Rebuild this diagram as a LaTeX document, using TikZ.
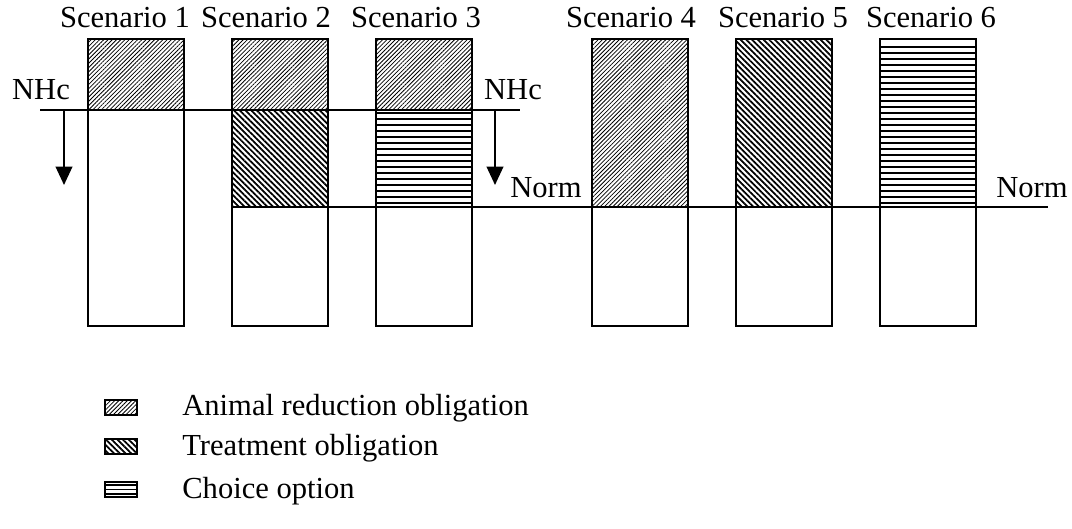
\documentclass[tikz,border=0pt]{standalone}
\usepackage{fontspec}
\setmainfont{Liberation Serif}
\usetikzlibrary{patterns.meta,arrows.meta}
\tikzset{
    every node/.style={inner sep=0pt, font=\fontsize{17.4}{20}\selectfont}
}
\tikzset{
    reductionfill/.style={pattern={Lines[angle=45,distance=1.7pt,line width=0.45pt]}},
    treatmentfill/.style={pattern={Lines[angle=-45,distance=2.3pt,line width=1pt]}}
}
\tikzset{
    bar/.style={line width=1.1pt}
}
% horizontal lines: left x, bottom y, width, number of gaps, gap
\newcommand{\choicelines}[5]{
	\foreach \k in {0,...,#4}
		\draw[line width=1pt] (#1,#2+\k*#5) -- ++(#3,0);
}

\begin{document}
\begin{tikzpicture}
	\useasboundingbox (0,0) rectangle (21.44,10.56);
	% patterned parts of the bars
	\fill[reductionfill] (1.76,8.36) rectangle (3.68,9.78);
	\fill[reductionfill] (4.64,8.36) rectangle (6.56,9.78);
	\fill[treatmentfill] (4.64,6.42) rectangle (6.56,8.36);
	\fill[reductionfill] (7.52,8.36) rectangle (9.44,9.78);
	\choicelines{7.52}{6.5}{1.92}{15}{0.12}
	\fill[reductionfill] (11.84,6.42) rectangle (13.76,9.78);
	\fill[treatmentfill] (14.72,6.42) rectangle (16.64,9.78);
	\choicelines{17.6}{6.5}{1.92}{26}{0.12}
	% bar outlines
	\foreach \x in {1.76,4.64,7.52,11.84,14.72,17.6}
		\draw[bar] (\x,4.04) rectangle ++(1.92,5.74);
	% NHc and Norm lines
	\coordinate (nhcl) at (0.8,8.36);
	\coordinate (nhcr) at (10.4,8.36);
	\coordinate (norml) at (4.64,6.42);
	\coordinate (normr) at (20.96,6.42);
	\draw[bar] (nhcl) -- (nhcr);
	\draw[bar] (norml) -- (normr);
	% arrows
	\coordinate (a1) at (1.28,8.36);
	\coordinate (b1) at (1.28,6.86);
	\coordinate (a2) at (9.9,8.36);
	\coordinate (b2) at (9.9,6.86);
	\draw[bar, -{Triangle[width=9.5pt,length=10.5pt]}] (a1) -- (b1);
	\draw[bar, -{Triangle[width=9.5pt,length=10.5pt]}] (a2) -- (b2);
	% labels
	\node[anchor=base] (nhc1) at (0.82,8.56) {NHc};
	\node[anchor=base] (nhc2) at (10.26,8.56) {NHc};
	\node[anchor=base] (norm1) at (10.92,6.6) {Norm};
	\node[anchor=base] (norm2) at (20.64,6.6) {Norm};
	\node[anchor=base] (s1) at (2.5,10) {Scenario 1};
	\node[anchor=base] (s2) at (5.32,10) {Scenario 2};
	\node[anchor=base] (s3) at (8.32,10) {Scenario 3};
	\node[anchor=base] (s4) at (12.62,10) {Scenario 4};
	\node[anchor=base] (s5) at (15.66,10) {Scenario 5};
	\node[anchor=base] (s6) at (18.62,10) {Scenario 6};
	% legend
	\draw[line width=0.6pt, reductionfill] (2.1,2.26) rectangle (2.74,2.56);
	\draw[line width=0.6pt, treatmentfill] (2.1,1.48) rectangle (2.74,1.78);
	\choicelines{2.1}{0.68}{0.64}{2}{0.09}
	\draw[line width=0.6pt] (2.1,0.62) rectangle (2.74,0.92);
	\node[anchor=base west] (l1) at (3.64,2.24) {Animal reduction obligation};
	\node[anchor=base west] (l2) at (3.64,1.46) {Treatment obligation};
	\node[anchor=base west] (l3) at (3.64,0.6) {Choice option};
\end{tikzpicture}
\end{document}
